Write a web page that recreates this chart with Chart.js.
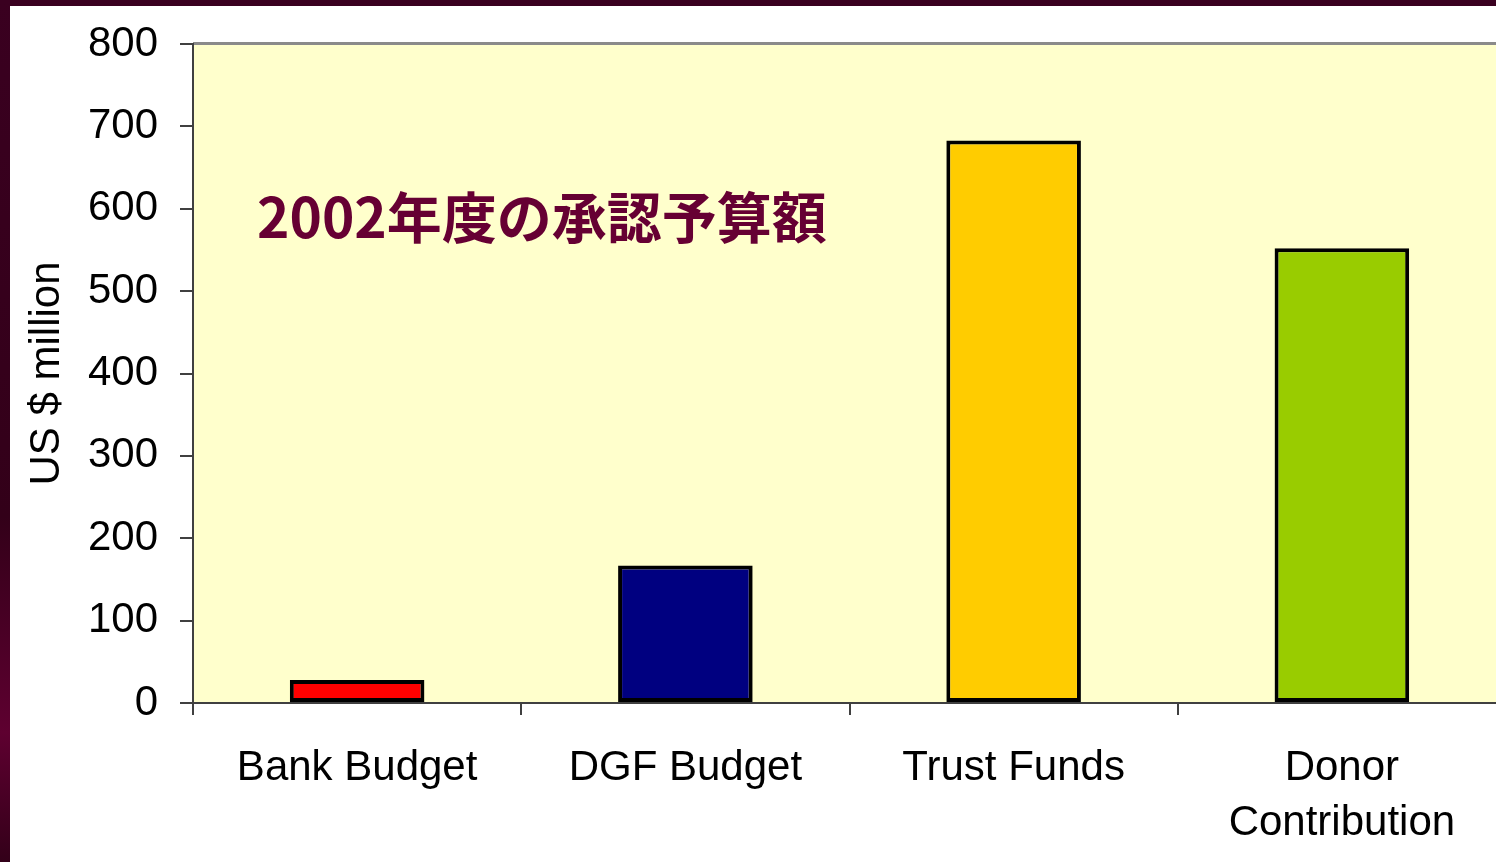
<!DOCTYPE html>
<html>
<head>
<meta charset="utf-8">
<script src="https://cdn.jsdelivr.net/npm/chart.js@4/dist/chart.umd.min.js"></script>
<style>
  html, body { margin: 0; padding: 0; overflow: hidden; }
  body {
    width: 1496px; height: 862px;
    background: linear-gradient(180deg, #3a0020 0%, #330019 60%, #5e0030 85%, #330019 100%);
    position: relative;
  }
  #wrap { position: absolute; left: 10px; top: 6px; width: 1500px; height: 856px; background: #fff; }
</style>
</head>
<body>
<div id="wrap"><canvas id="myChart" width="1500" height="856"></canvas></div>
<script>
const categories = ["Bank Budget", "DGF Budget", "Trust Funds", ["Donor", "Contribution"]];
const values = [28, 167, 683, 552];
const barColors = ["#FF0000", "#000080", "#FFCC00", "#99CC00"];
const yTicks = [0, 100, 200, 300, 400, 500, 600, 700, 800];
const chartTitle = "2002年度の承認予算額";

const ctx = document.getElementById("myChart");

// plot area fill, top border and the japanese caption
const plotArea = {
  id: "plotArea",
  beforeDraw(chart) {
    const { ctx, chartArea: a } = chart;
    ctx.save();
    ctx.fillStyle = "#FFFFCC";
    ctx.fillRect(a.left, a.top, a.right - a.left, a.bottom - a.top);
    ctx.strokeStyle = "#8a8a8a";
    ctx.lineWidth = 3;
    ctx.beginPath();
    ctx.moveTo(a.left, a.top - 0.5);
    ctx.lineTo(a.right, a.top - 0.5);
    ctx.stroke();
    ctx.restore();
  },
  afterDatasetsDraw(chart) {
    const { ctx, chartArea: a } = chart;
    ctx.save();
    ctx.fillStyle = "#660033";
    ctx.font = "bold 55px 'Noto Sans CJK JP'";
    ctx.textBaseline = "middle";
    ctx.fillText(chartTitle, a.left + 64, a.top + 173);
    ctx.restore();
  },
};

new Chart(ctx, {
  type: "bar",
  data: {
    labels: categories,
    datasets: [
      {
        data: values,
        backgroundColor: barColors,
        borderColor: "#000000",
        borderWidth: 4,
        borderSkipped: false,
        barPercentage: 0.82,
        categoryPercentage: 0.5,
      },
    ],
  },
  plugins: [plotArea],
  options: {
    responsive: false,
    animation: false,
    devicePixelRatio: 1,
    layout: { padding: { top: 38, right: 4, left: 0, bottom: 0 } },
    plugins: { legend: { display: false }, tooltip: { enabled: false } },
    scales: {
      x: {
        afterFit: (s) => { s.height = 159; s.paddingLeft = 0; s.paddingRight = 0; },
        grid: {
          offset: true,
          drawOnChartArea: false,
          drawTicks: true,
          tickLength: 12,
          tickColor: "#404040",
          lineWidth: 2,
        },
        border: { color: "#404040", width: 2 },
        ticks: {
          color: "#000",
          padding: 25,
          font: { family: "'Liberation Sans', Arial", size: 42, lineHeight: 1.33 },
          maxRotation: 0,
          autoSkip: false,
        },
      },
      y: {
        min: 0,
        max: 800,
        afterFit: (s) => { s.width = 183; s.paddingTop = 0; s.paddingBottom = 0; },
        afterBuildTicks: (s) => { s.ticks = yTicks.map((v) => ({ value: v })); },
        grid: {
          drawOnChartArea: false,
          drawTicks: true,
          tickLength: 13,
          tickColor: "#404040",
          lineWidth: 2,
        },
        border: { color: "#404040", width: 2 },
        ticks: {
          color: "#000",
          padding: 22,
          font: { family: "'Liberation Sans', Arial", size: 42 },
        },
        title: {
          display: true,
          text: "US $ million",
          color: "#000",
          padding: { top: 12, bottom: 0 },
          font: { family: "'Liberation Sans', Arial", size: 42, lineHeight: 1.2 },
        },
      },
    },
  },
});
</script>
</body>
</html>
